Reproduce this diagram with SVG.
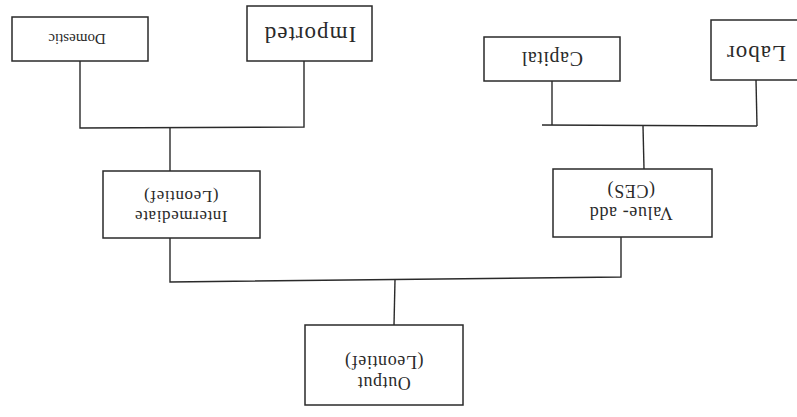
<svg xmlns="http://www.w3.org/2000/svg" width="797" height="417" viewBox="0 0 797 417">
<style>
.box{fill:#fff;stroke:#2a2a2a;stroke-width:1.5}
.ln{fill:none;stroke:#2a2a2a;stroke-width:1.4}
text{font-family:"Liberation Serif","Times New Roman",serif;fill:#2a2a2a;text-anchor:middle;font-weight:normal}
.s{font-size:15px}
.m{font-size:18px;letter-spacing:0.6px}
.l{font-size:23px;letter-spacing:1px}
</style>
<rect width="797" height="417" fill="#fff"/>
<g id="connectors">
<polyline class="ln" points="80,61 80,128 304,127 304,61"/>
<line class="ln" x1="170" y1="128" x2="170" y2="171"/>
<line class="ln" x1="552" y1="81" x2="552" y2="125"/>
<line class="ln" x1="756" y1="80" x2="757" y2="126"/>
<line class="ln" x1="542" y1="125" x2="757" y2="126"/>
<line class="ln" x1="643" y1="126" x2="644" y2="169"/>
<polyline class="ln" points="170,238 170,282 621,277 621,237"/>
<line class="ln" x1="395" y1="280" x2="394" y2="325"/>
</g>
<g id="domestic" transform="rotate(180 80 39)">
<rect class="box" x="12" y="17" width="136" height="44"/>
<text class="s" x="83" y="44">Domestic</text>
</g>
<g id="imported" transform="rotate(180 309.5 33.5)">
<rect class="box" x="247" y="6" width="125" height="55"/>
<text class="l" x="309" y="40">Imported</text>
</g>
<g id="capital" transform="rotate(180 552 59)">
<rect class="box" x="484" y="37" width="136" height="44"/>
<text class="m" x="552" y="66" style="font-size:20px">Capital</text>
</g>
<g id="labor" transform="rotate(180 755.5 50)">
<rect class="box" x="711" y="20" width="89" height="60"/>
<text class="l" x="755" y="54">Labor</text>
</g>
<g id="intermediate" transform="rotate(180 181.5 204.5)">
<rect class="box" x="103" y="171" width="157" height="67"/>
<text class="m" x="182" y="198" style="font-size:17px">Intermediate</text>
<text class="m" x="182" y="218" style="font-size:17px">(Leontief)</text>
</g>
<g id="valueadd" transform="rotate(180 632.5 203)">
<rect class="box" x="553" y="169" width="159" height="68"/>
<text class="m" x="634" y="199">Value- add</text>
<text class="m" x="634" y="221">(CES)</text>
</g>
<g id="output" transform="rotate(180 384 365)">
<rect class="box" x="305" y="325" width="158" height="80"/>
<text class="m" x="384" y="353">Output</text>
<text class="m" x="384" y="374">(Leontief)</text>
</g>
</svg>
